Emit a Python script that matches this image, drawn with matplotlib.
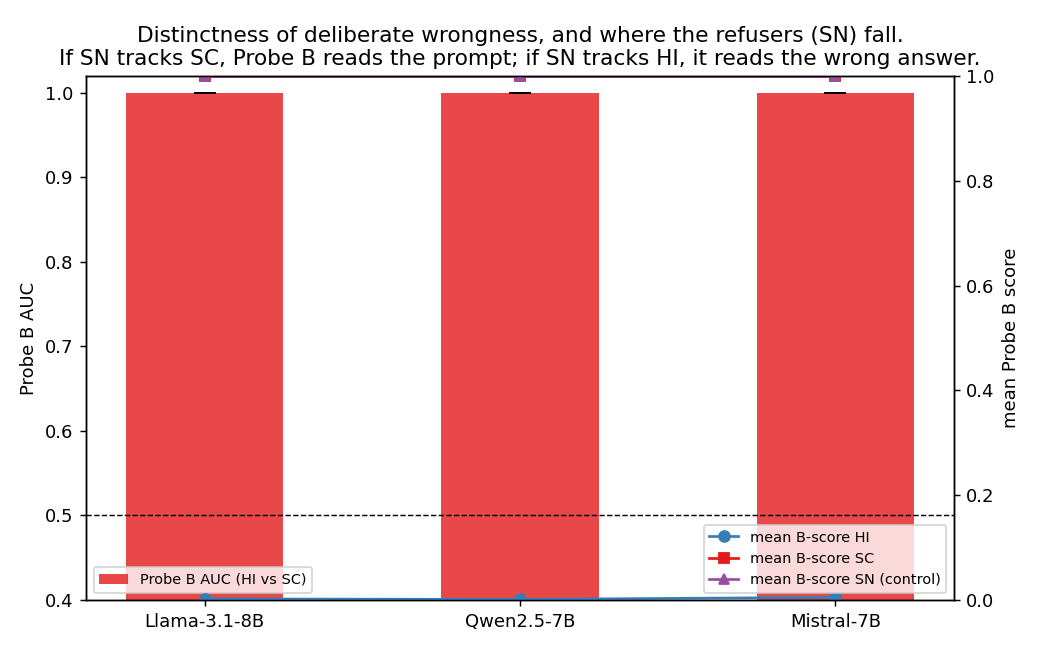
import numpy as np
import matplotlib
matplotlib.use("Agg")
import matplotlib.pyplot as plt

models = ["Llama-3.1-8B", "Qwen2.5-7B", "Mistral-7B"]
auc = [1.0, 1.0, 1.0]
auc_err = [0.0, 0.0, 0.0]
score_hi = [0.002, 0.001, 0.005]
score_sc = [1.0, 1.0, 1.0]
score_sn = [1.0, 1.0, 1.0]

x = np.arange(len(models))

fig, ax = plt.subplots(figsize=(8, 5), dpi=130)
fig.subplots_adjust(left=0.083, right=0.917, top=0.883, bottom=0.077)

ax.bar(x, auc, width=0.5, color="#e41a1c", alpha=0.8, yerr=auc_err, capsize=6,
       label="Probe B AUC (HI vs SC)")
ax.axhline(0.5, color="black", linestyle="--", linewidth=0.8)
ax.set_ylim(0.4, 1.02)
ax.set_ylabel("Probe B AUC")
ax.set_xticks(x)
ax.set_xticklabels(models)
ax.legend(loc="lower left", fontsize=8)

ax2 = ax.twinx()
ax2.plot(x, score_hi, "-o", color="#377eb8", label="mean B-score HI")
ax2.plot(x, score_sc, "-s", color="#e41a1c", label="mean B-score SC")
ax2.plot(x, score_sn, "-^", color="#984ea3", label="mean B-score SN (control)")
ax2.set_ylim(0, 1.0)
ax2.set_ylabel("mean Probe B score")
ax2.legend(loc="lower right", fontsize=8)

ax.set_title("Distinctness of deliberate wrongness, and where the refusers (SN) fall.\n"
             "If SN tracks SC, Probe B reads the prompt; if SN tracks HI, it reads the wrong answer.",
             fontsize=12)

fig.savefig("out.png")
